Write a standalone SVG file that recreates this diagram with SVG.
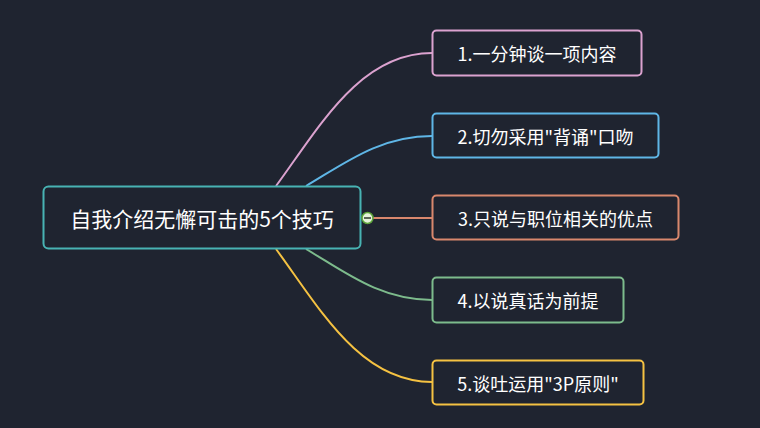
<svg xmlns="http://www.w3.org/2000/svg" width="760" height="428" viewBox="0 0 760 428">
<style>
.box{fill:#1f2430;stroke-width:2}
.t{font-family:"Noto Sans CJK SC","Noto Sans",sans-serif;fill:#ffffff;text-anchor:middle;dominant-baseline:central}
.c{fill:none;stroke-width:2}
</style>
<rect width="760" height="428" fill="#1f2430"/>
<g id="connectors">
<path class="c" d="M276,186 C320,126 360,53 432,53" stroke="#dba2cf"/>
<path class="c" d="M306,186 C345,163 380,136 432,136" stroke="#5fb6e6"/>
<path class="c" d="M373,218 L432,218" stroke="#d9876d"/>
<path class="c" d="M306,249 C345,272 380,300 432,300" stroke="#7dbb8c"/>
<path class="c" d="M276,249 C320,309 360,382 432,382" stroke="#f5c242"/>
</g>
<g id="root">
<rect class="box" x="43.5" y="186.5" width="317" height="62" rx="5" stroke="#48b3b3"/>
<text class="t" x="202" y="218" font-size="21">自我介绍无懈可击的5个技巧</text>
<circle cx="367.5" cy="218" r="5.5" fill="#e6f3da" stroke="#5da53a" stroke-width="1.5"/>
<line x1="364" y1="218" x2="371" y2="218" stroke="#2e3a2a" stroke-width="1.5"/>
</g>
<g id="n1">
<rect class="box" x="432.5" y="30.5" width="209" height="45" rx="4" stroke="#dba2cf"/>
<text class="t" x="537" y="53" font-size="18">1.一分钟谈一项内容</text>
</g>
<g id="n2">
<rect class="box" x="432.5" y="113.5" width="226" height="44" rx="4" stroke="#5fb6e6"/>
<text class="t" x="545.5" y="135.5" font-size="18">2.切勿采用"背诵"口吻</text>
</g>
<g id="n3">
<rect class="box" x="432.5" y="195.5" width="246" height="44" rx="4" stroke="#d9876d"/>
<text class="t" x="555.5" y="217.5" font-size="18">3.只说与职位相关的优点</text>
</g>
<g id="n4">
<rect class="box" x="432.5" y="277.5" width="191" height="45" rx="4" stroke="#7dbb8c"/>
<text class="t" x="528" y="300" font-size="18">4.以说真话为前提</text>
</g>
<g id="n5">
<rect class="box" x="432.5" y="360.5" width="211" height="44" rx="4" stroke="#f5c242"/>
<text class="t" x="538" y="382.5" font-size="18">5.谈吐运用"3P原则"</text>
</g>
</svg>
